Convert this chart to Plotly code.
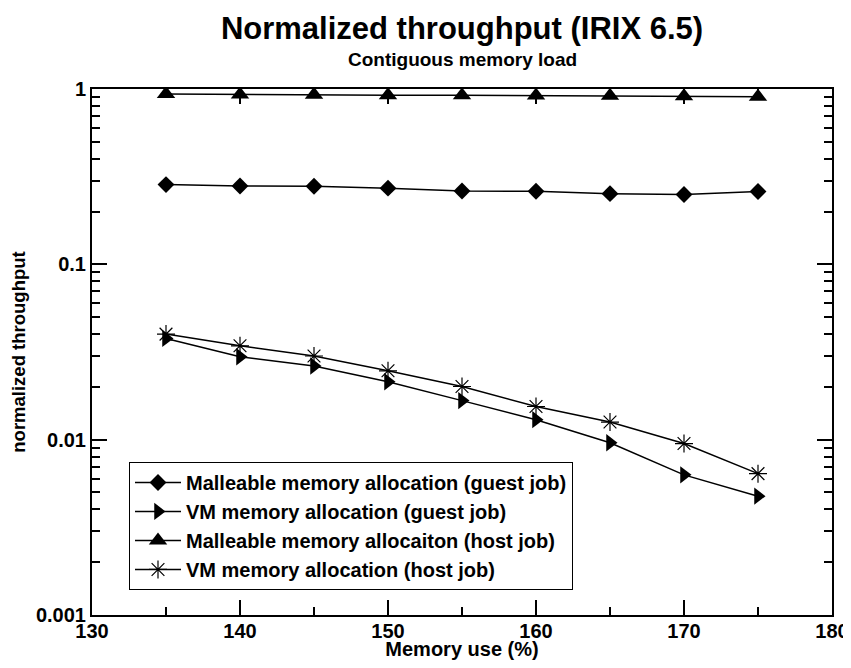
import numpy as np
import plotly.graph_objects as go

# ---- data ----
memory_use = [135, 140, 145, 150, 155, 160, 165, 170, 175]
malleable_guest = [0.285, 0.280, 0.279, 0.272, 0.262, 0.261, 0.253, 0.250, 0.260]
vm_guest = [0.0378, 0.0297, 0.0263, 0.0214, 0.0167, 0.0130, 0.0096, 0.0063, 0.00476]
malleable_host = [0.937, 0.930, 0.928, 0.922, 0.920, 0.918, 0.915, 0.910, 0.904]
vm_host = [0.0400, 0.0343, 0.0300, 0.0247, 0.0201, 0.01546, 0.0126, 0.0095, 0.0064]

series_names = [
    "Malleable memory allocation (guest job)",
    "VM memory allocation (guest job)",
    "Malleable memory allocaiton (host job)",
    "VM memory allocation (host job)",
]
y_tickvals = [0.001, 0.01, 0.1, 1]
y_ticktext = ["0.001", "0.01", "0.1", "1"]
x_tickvals = [130, 140, 150, 160, 170, 180]
x_ticktext = ["130", "140", "150", "160", "170", "180"]

FONT = "Liberation Sans, Arial, sans-serif"

series = [
    (malleable_guest, "diamond", 13, 0),
    (vm_guest, "triangle-right", 15, 0),
    (malleable_host, "triangle-up", 16, 0),
    (vm_host, "asterisk-open", 15, 1.2),
]

fig = go.Figure()
for (vals, sym, size, lw), name in zip(series, series_names):
    fig.add_trace(go.Scatter(
        x=memory_use, y=vals, name="<b>" + name + "</b>", mode="lines+markers",
        line=dict(color="black", width=1.5),
        marker=dict(symbol=sym, size=size, color="black",
                    line=dict(color="black", width=lw)),
    ))

minor_y = [m * 10.0 ** e for e in range(-3, 0) for m in range(2, 10)]

# page has an 8px body margin: figure is drawn 8px right/down;
# keep the page from overflowing vertically (no scrollbar)
W, H = 843, 652

fig.update_layout(
    width=W, height=H,
    margin=dict(l=84, r=19, t=81, b=45),
    paper_bgcolor="white", plot_bgcolor="white",
    font=dict(family=FONT, color="black"),
    title=dict(
        text="<b>Normalized throughput (IRIX 6.5)</b>",
        font=dict(size=31, family=FONT),
        x=(84 + 824) / 2 / W, xanchor="center",
        y=1 - 20 / H, yanchor="middle", yref="container",
    ),
    annotations=[dict(
        text="<b>Contiguous memory load</b>", xref="paper", yref="paper",
        x=0.5, y=(615 - 59) / 526, xanchor="center", yanchor="middle",
        showarrow=False, font=dict(size=19, family=FONT, color="black"),
    )],
    showlegend=True,
    legend=dict(
        x=0.05, y=0.291, xanchor="left", yanchor="top",
        bordercolor="black", borderwidth=1, bgcolor="white",
        font=dict(size=20, family=FONT),
        itemwidth=46,
    ),
    xaxis=dict(
        range=[130, 180], tickvals=x_tickvals, automargin=False,
        ticktext=["<b>" + t + "</b>" for t in x_ticktext],
        ticks="inside", ticklen=15, tickwidth=1.5, tickcolor="black",
        showline=True, linecolor="black", linewidth=2, mirror="ticks",
        showgrid=False, zeroline=False, ticklabelstandoff=-3,
        ticklabeloverflow="allow",
        tickfont=dict(size=20, family=FONT),
        minor=dict(tickvals=[135, 145, 155, 165, 175], ticks="inside", ticklen=8,
                   tickwidth=1.5, tickcolor="black", showgrid=False),
        title=dict(text="<b>Memory use (%)</b>", font=dict(size=20, family=FONT),
                   standoff=4),
    ),
    yaxis=dict(
        type="log", range=[-3, 0], tickvals=y_tickvals, automargin=False,
        ticktext=["<b>" + t + "</b>" for t in y_ticktext],
        ticks="inside", ticklen=15, tickwidth=1.5, tickcolor="black",
        showline=True, linecolor="black", linewidth=2, mirror="ticks",
        showgrid=False, zeroline=False,
        tickfont=dict(size=20, family=FONT),
        minor=dict(tickvals=minor_y, ticks="inside", ticklen=8,
                   tickwidth=1.5, tickcolor="black", showgrid=False),
        title=dict(text="<b>normalized throughput</b>", font=dict(size=18.5, family=FONT),
                   standoff=9),
    ),
)

fig.write_html("out.html")
